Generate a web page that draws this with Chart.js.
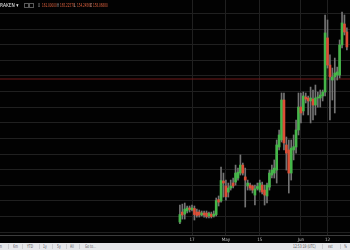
<!DOCTYPE html>
<html>
<head>
<meta charset="utf-8">
<script src="https://cdn.jsdelivr.net/npm/chart.js@4.4.0/dist/chart.umd.min.js"></script>
<style>
  html, body { margin: 0; padding: 0; background: #020202; overflow: hidden; }
  #wrap { position: relative; width: 350px; height: 250px; font-family: 'DejaVu Sans', sans-serif; }
  #plot { position: absolute; left: 0; top: 0; }
  #legend { position: absolute; left: 0; top: 0; height: 11px; width: 140px; white-space: nowrap; }
  #legend span { position: absolute; top: 3px; font-size: 5.5px; line-height: 5.5px; transform: scaleX(0.5); transform-origin: 0 0; }
  #legend .sym { color: #ececec; transform: scaleX(0.8); }
  #legend .k { color: #b0b0b0; }
  #legend .v { color: #e0623f; }
  #legend .box { top: 3px; width: 3px; height: 3px; border: 1px solid #5a5a5a; transform: none; }
  #toolbar { position: absolute; left: 0; top: 243px; width: 350px; height: 7px; background: #e6e7ea; white-space: nowrap; overflow: hidden; }
  #toolbar span { position: absolute; top: 1px; font-size: 5px; line-height: 5px; color: #5a5a5a; transform: scaleX(0.6); transform-origin: 0 0; }
  #toolbar i { position: absolute; top: 1px; width: 1px; height: 5px; background: #cbccd0; }
</style>
</head>
<body>
<div id="wrap">
  <canvas id="plot" width="350" height="243"></canvas>
  <div id="legend">
    <span class="sym" style="left:0">RAKEN ▾</span>
    <span class="box" style="left:24px"></span>
    <span class="box" style="left:29px"></span>
    <span class="k" style="left:38px">O</span><span class="v" style="left:42px">161.00000</span>
    <span class="k" style="left:57px">H</span><span class="v" style="left:60px">165.22578</span>
    <span class="k" style="left:74px">L</span><span class="v" style="left:77px">154.24568</span>
    <span class="k" style="left:90px">C</span><span class="v" style="left:93px">158.06880</span>
  </div>
  <div id="toolbar">
    <span style="left:-3px">3m</span><i style="left:8px"></i>
    <span style="left:13px">6m</span><i style="left:22px"></i>
    <span style="left:27px">YTD</span><i style="left:39px"></i>
    <span style="left:43px">1y</span><i style="left:52px"></i>
    <span style="left:57px">5y</span><i style="left:66px"></i>
    <span style="left:70px">All</span><i style="left:79px"></i>
    <span style="left:85px">Go to...</span>
    <span style="left:293px">12:53:19 (UTC)</span><i style="left:322px"></i>
    <span style="left:328px">ext</span><i style="left:340px"></i>
    <span style="left:344px">%</span>
  </div>
</div>
<script>
// daily candles
const dates = [
  '2017-04-12','2017-04-13','2017-04-14','2017-04-15','2017-04-16','2017-04-17','2017-04-18','2017-04-19','2017-04-20','2017-04-21',
  '2017-04-22','2017-04-23','2017-04-24','2017-04-25','2017-04-26','2017-04-27','2017-04-28','2017-04-29','2017-04-30',
  '2017-05-01','2017-05-02','2017-05-03','2017-05-04','2017-05-05','2017-05-06','2017-05-07','2017-05-08','2017-05-09','2017-05-10',
  '2017-05-11','2017-05-12','2017-05-13','2017-05-14','2017-05-15','2017-05-16','2017-05-17','2017-05-18','2017-05-19','2017-05-20',
  '2017-05-21','2017-05-22','2017-05-23','2017-05-24','2017-05-25','2017-05-26','2017-05-27','2017-05-28','2017-05-29','2017-05-30','2017-05-31',
  '2017-06-01','2017-06-02','2017-06-03','2017-06-04','2017-06-05','2017-06-06','2017-06-07','2017-06-08','2017-06-09','2017-06-10',
  '2017-06-11','2017-06-12','2017-06-13','2017-06-14','2017-06-15','2017-06-16','2017-06-17','2017-06-18','2017-06-19','2017-06-20'
];
const open = [
  66.4, 72.8, 71.5, 73.5, 75.4, 74.4, 75.1, 72.8, 72.8, 70.9, 72.2, 72.2, 70.3, 71.5, 70.3, 71.2, 80.8, 79.9, 92.7,
  89.5, 85.6, 88.2, 91.4, 92.0, 94.6, 97.8, 102.9, 95.3, 89.5, 90.1, 89.5, 83.7, 87.9, 86.9, 90.1, 86.9, 83.1, 88.8, 96.5,
  97.8, 99.7, 114.5, 119.0, 144.6, 115.8, 112.6, 97.8, 112.6, 114.5, 125.4,
  140.1, 137.6, 146.5, 145.9, 144.0, 145.2, 141.4, 145.9, 145.9, 147.2, 149.7, 184.4, 167.0, 157.4, 159.4, 160.6, 160.6, 179.9, 193.3, 188.2
];
const high = [
  77.3, 77.9, 78.6, 76.7, 76.7, 77.3, 76.7, 74.7, 74.1, 73.5, 73.5, 73.5, 72.8, 72.8, 73.5, 81.8, 83.1, 101.7, 97.8,
  93.3, 91.4, 93.3, 94.6, 102.9, 101.0, 109.4, 104.2, 101.0, 93.3, 91.4, 90.1, 90.1, 91.4, 93.3, 92.0, 90.1, 91.4, 99.7, 102.9,
  106.2, 119.0, 125.4, 149.1, 149.1, 120.9, 119.0, 119.0, 122.2, 131.8, 149.1,
  149.1, 149.7, 149.1, 147.2, 152.9, 151.0, 154.2, 149.7, 151.0, 151.0, 199.1, 195.9, 173.5, 165.1, 171.5, 165.7, 183.1, 201.0, 199.1, 190.8
];
const low = [
  65.4, 68.3, 68.3, 72.2, 72.8, 73.5, 67.7, 69.6, 69.6, 70.3, 69.6, 69.0, 69.0, 69.0, 69.6, 70.3, 76.7, 79.2, 82.4,
  80.5, 82.4, 86.9, 88.2, 90.1, 93.3, 96.5, 96.5, 76.0, 86.9, 86.9, 85.0, 77.3, 86.9, 85.6, 84.4, 77.3, 78.6, 86.9, 94.6,
  94.6, 91.4, 112.6, 117.7, 112.6, 99.7, 85.0, 93.3, 106.2, 110.6, 122.2,
  129.9, 135.0, 142.7, 135.0, 129.9, 131.8, 135.0, 140.1, 140.1, 144.0, 147.2, 165.1, 131.8, 144.6, 136.3, 157.4, 158.7, 178.0, 186.3, 176.7
];
const close = [
  71.2, 70.9, 74.7, 75.4, 74.4, 75.4, 71.2, 70.6, 70.9, 72.2, 70.9, 69.9, 71.9, 69.9, 71.5, 80.2, 79.2, 93.0, 91.4,
  82.7, 88.2, 89.5, 89.5, 97.8, 98.4, 102.9, 97.8, 93.3, 91.4, 88.2, 86.9, 87.6, 89.2, 91.4, 85.6, 83.7, 90.1, 97.8, 99.7,
  101.0, 115.8, 122.2, 144.6, 117.1, 110.6, 97.8, 113.8, 114.7, 125.4, 140.1,
  136.3, 147.2, 145.2, 144.0, 145.9, 141.4, 145.9, 146.5, 147.8, 149.7, 187.6, 167.0, 159.4, 159.4, 161.9, 162.6, 179.9, 194.0, 188.2, 178.6
];
const tickDates = ['2017-04-17', '2017-05-01', '2017-05-15', '2017-06-01', '2017-06-12'];
const tickLabels = ['17', 'May', '15', 'Jun', '12'];
const priceGrid = [60, 70, 80, 90, 100, 110, 120, 130, 140, 150, 160, 170, 180, 190, 200];
const lastClose = 158.0688;

const UP = '#45b649';
const DOWN = '#dc4e37';
const WICK = '#747474';
const GRID = '#202020';

// days since Jan 1, 2017
const dayNum = s => (Date.parse(s + 'T00:00:00Z') - Date.UTC(2017, 0, 1)) / 864e5;
const xMin = 26.66, xMax = 171.29;

const colors = close.map((c, i) => c >= open[i] ? UP : DOWN);

new Chart(document.getElementById('plot'), {
  type: 'bar',
  data: {
    datasets: [
      {
        data: dates.map((d, i) => ({ x: dayNum(d), y: [open[i], close[i]] })),
        backgroundColor: colors,
        barThickness: 2,
        minBarLength: 1,
        grouped: false,
        order: 1
      },
      {
        data: dates.map((d, i) => ({ x: dayNum(d), y: [low[i], high[i]] })),
        backgroundColor: WICK,
        barThickness: 1,
        grouped: false,
        order: 2
      },
      {
        type: 'line',
        data: [{ x: xMin, y: lastClose }, { x: xMax, y: lastClose }],
        borderColor: '#701a1a',
        borderWidth: 1,
        pointRadius: 0,
        order: 3
      }
    ]
  },
  options: {
    responsive: false,
    animation: false,
    devicePixelRatio: 1,
    layout: { padding: 0 },
    plugins: { legend: { display: false }, tooltip: { enabled: false } },
    scales: {
      x: {
        type: 'linear',
        offset: false,
        min: xMin,
        max: xMax,
        afterBuildTicks: s => { s.ticks = tickDates.map(d => ({ value: dayNum(d) })); },
        afterFit: s => { s.height = 8; },
        ticks: {
          callback: (v, i) => tickLabels[i],
          color: '#c4c4c4',
          font: { family: 'DejaVu Sans Condensed, DejaVu Sans', size: 4.5 },
          padding: 2,
          maxRotation: 0,
          autoSkip: false
        },
        grid: { color: GRID, drawTicks: false, offset: false },
        border: { color: '#3c3c3c' }
      },
      y: {
        min: 58.1,
        max: 208.7,
        afterBuildTicks: s => { s.ticks = priceGrid.map(v => ({ value: v })); },
        afterFit: s => { s.width = 0; },
        ticks: { display: false },
        grid: { color: GRID, drawTicks: false },
        border: { display: false }
      }
    }
  }
});
</script>
</body>
</html>
